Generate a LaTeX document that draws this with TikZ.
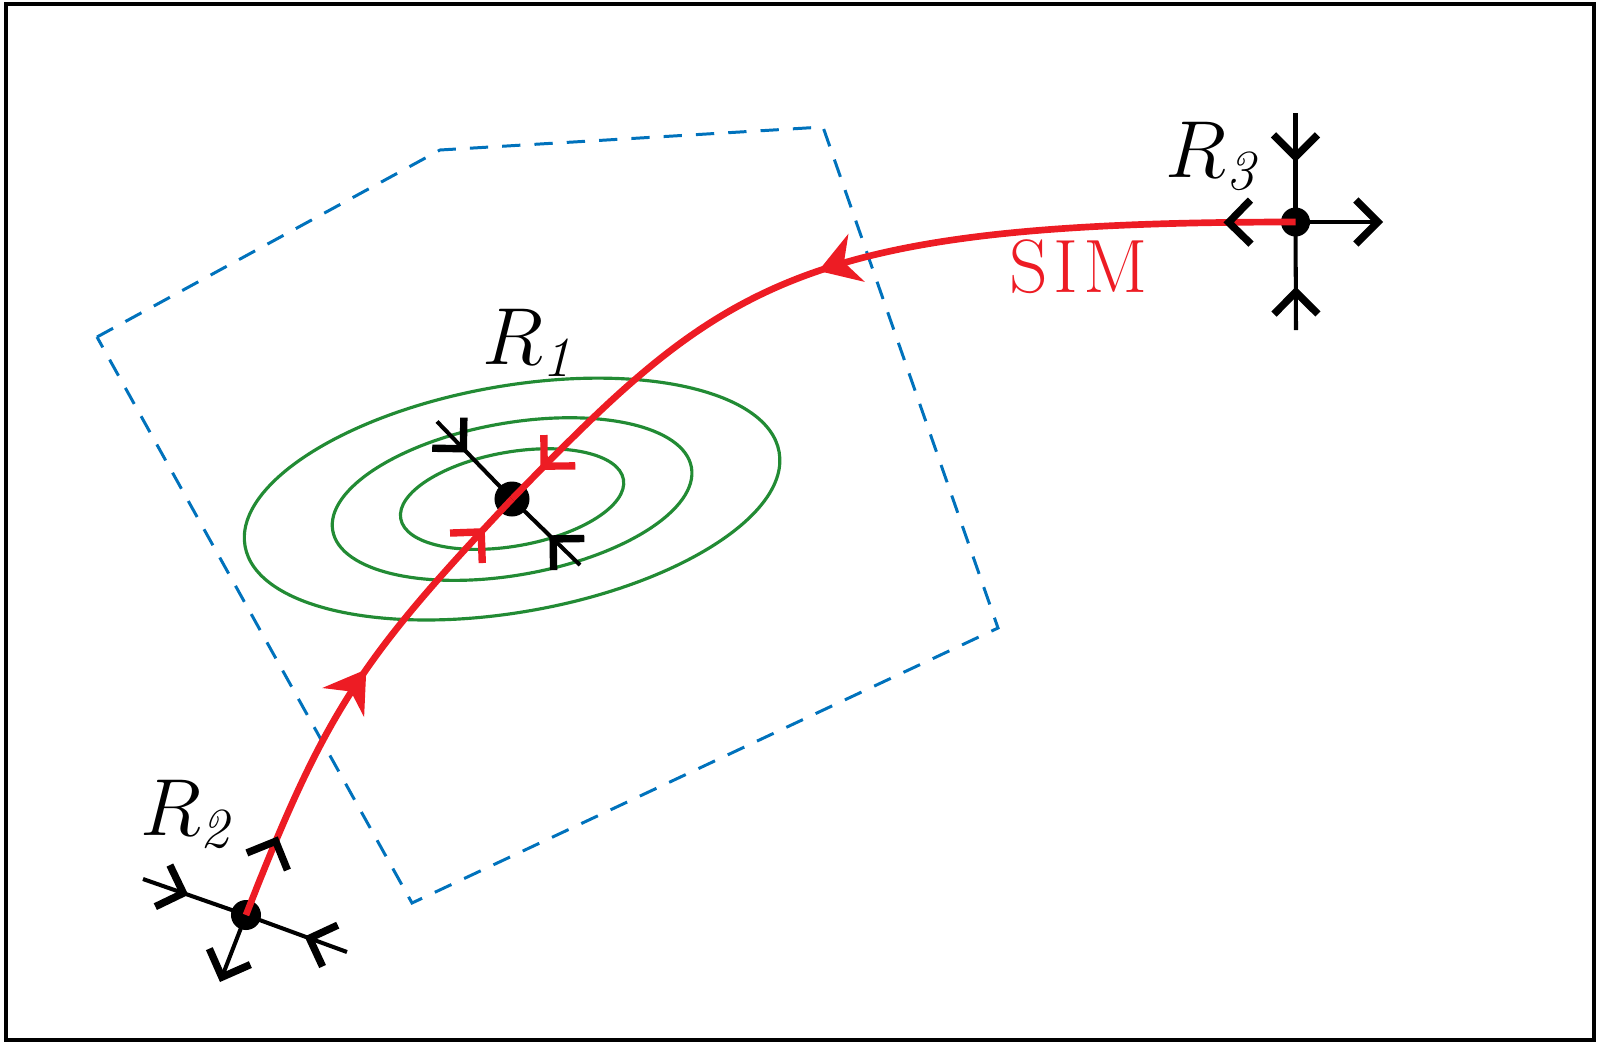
\RequirePackage{fix-cm}
\documentclass[tikz,border=0pt]{standalone}
\usetikzlibrary{arrows.meta,decorations.markings}

\definecolor{simred}{RGB}{237,28,36}
\definecolor{ellgreen}{RGB}{34,139,52}
\definecolor{boxblue}{RGB}{0,114,188}

\tikzset{
  chev/.tip={Straight Barb[sharp,length=2.2mm,width=4.4mm,line width'=2.1pt]},
  flowtip/.tip={Stealth[length=4mm,width=5mm,inset=1.3mm]}
}

\begin{document}
\begin{tikzpicture}[
  x=0.01cm, y=-0.01cm,
  fixpt/.style={circle, fill=black, inner sep=0pt, minimum size=#1},
  fixpt/.default=3mm,
  axis/.style={line width=1.15pt, black},
  inward/.style={postaction=decorate, decoration={markings, mark=at position #1 with {\arrow{chev}}}},
  simline/.style={line width=1.9pt, simred},
  level/.style={line width=0.9pt, ellgreen},
  region/.style={line width=0.85pt, boxblue, dash pattern=on 5.2pt off 4pt},
  lbl/.style={anchor=base west, inner sep=0pt, font=\fontsize{23}{27}\selectfont}
]
  \useasboundingbox (0,0) rectangle (1597,1042);
  \draw[line width=1.15pt] (6,4) rectangle (1594,1040);

  % equilibria
  \coordinate (R1) at (512,499);
  \coordinate (R2) at (246,915);
  \coordinate (R3) at (1295.5,222);

  % dashed region
  \draw[region] (97,337) -- (440,150) -- (823,127) -- (998,628) -- (412,903) -- cycle;

  % level sets round R1
  \draw[level, rotate around={10:(R1)}] (R1) ellipse [x radius=2.71cm, y radius=1.13cm];
  \draw[level, rotate around={10:(R1)}] (R1) ellipse [x radius=1.82cm, y radius=0.76cm];
  \draw[level, rotate around={10:(R1)}] (R1) ellipse [x radius=1.13cm, y radius=0.47cm];

  \node[fixpt=3.5mm] (p1) at (R1) {};
  \node[fixpt] (p2) at (R2) {};
  \node[fixpt=2.9mm] (p3) at (R3) {};

  % stable directions
  \coordinate (s1a) at (437,421.5);
  \coordinate (s1b) at (580,565);
  \draw[axis, inward=0.4] (s1a) -- (R1);
  \draw[axis, inward=0.45] (s1b) -- (R1);

  \coordinate (s2a) at (143,879);
  \coordinate (s2b) at (347,952);
  \coordinate (u2) at (220,982);
  \draw[axis, inward=0.44] (s2a) -- (R2);
  \draw[axis, inward=0.42] (s2b) -- (R2);
  \draw[axis, -chev] (R2) -- (u2);

  \coordinate (s3a) at (1295.5,113);
  \coordinate (s3b) at (1296,330);
  \coordinate (u3) at (1383,222);
  \draw[axis, inward=0.45] (s3a) -- (R3);
  \draw[axis, inward=0.4] (s3b) -- (R3);
  \draw[axis, -chev] (R3) -- (u3);

  % slow invariant manifold
  \draw[simline, postaction=decorate, decoration={markings,
      mark=at position 0.17 with {\arrow[black]{chev}},
      mark=at position 0.55 with {\arrow{flowtip}},
      mark=at position 0.92 with {\arrow{chev}}}]
    (R2) .. controls (326,710) and (361,659) .. (R1);
  \draw[simline, postaction=decorate, decoration={markings,
      mark=at position 0.083 with {\arrow[black]{chev}},
      mark=at position 0.555 with {\arrow{flowtip}},
      mark=at position 0.953 with {\arrow{chev}}}]
    (R3) .. controls (795.5,222) and (722,283) .. (R1);

  % labels
  \node[lbl] (l1) at (482,364) {$R_{\mathit{1}}$};
  \node[lbl] (l2) at (140,835) {$R_{\mathit{2}}$};
  \node[lbl] (l3) at (1165,177) {$R_{\mathit{3}}$};
  \node[lbl, text=simred, font=\fontsize{21.5}{25}\selectfont] (sim) at (1009,292) {S\kern1.5pt I\kern1.5pt M};
\end{tikzpicture}
\end{document}
